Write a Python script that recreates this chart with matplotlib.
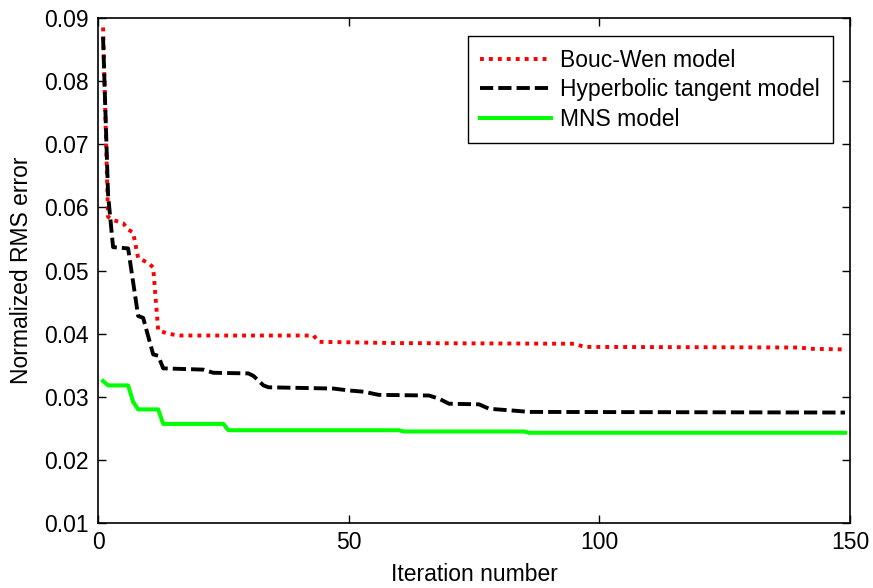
import matplotlib
matplotlib.use("Agg")
import matplotlib.pyplot as plt

plt.rcParams['font.family'] = ['Liberation Sans', 'DejaVu Sans']

# Bouc-Wen model (iteration, error) breakpoints
bw_it = [1, 2, 3, 5, 6, 7, 8, 10, 11, 12, 14, 16, 43, 44, 60, 95, 97, 140, 142, 149]
bw_err = [0.0885, 0.0585, 0.058, 0.0575, 0.0565, 0.056, 0.052, 0.0512, 0.0505, 0.0405,
          0.0400, 0.0397, 0.0397, 0.0387, 0.0385, 0.0384, 0.0379, 0.0378, 0.0376, 0.0375]

# Hyperbolic tangent model
ht_it = [1, 2, 3, 6, 8, 9, 11, 12, 13, 21, 23, 30, 31, 33, 34, 47, 50, 53, 56, 66,
         68, 70, 76, 78, 83, 86, 149]
ht_err = [0.087, 0.062, 0.0537, 0.0535, 0.0428, 0.0425, 0.0367, 0.0365, 0.0345, 0.0343,
          0.0338, 0.0337, 0.0333, 0.0318, 0.0315, 0.0313, 0.0310, 0.0308, 0.0303, 0.0302,
          0.0297, 0.0289, 0.0288, 0.0281, 0.0278, 0.0276, 0.0275]

# MNS model
mns_it = [1, 2, 6, 7, 8, 12, 13, 25, 26, 60, 61, 85, 86, 149]
mns_err = [0.0325, 0.0318, 0.0318, 0.0292, 0.0280, 0.0280, 0.0257, 0.0257, 0.0247,
           0.0247, 0.0245, 0.0245, 0.0243, 0.0243]

fig = plt.figure(figsize=(8.73, 5.88), dpi=100)
ax = fig.add_axes([0.1123, 0.1105, 0.8614, 0.8589])

ax.plot(bw_it, bw_err, color='red', lw=2.8, linestyle=(0, (1, 1.3)),
        dash_capstyle='butt', label='Bouc-Wen model')
ax.plot(ht_it, ht_err, color='black', lw=2.8, linestyle=(0, (3.4, 1.3)),
        dash_capstyle='butt', label='Hyperbolic tangent model')
ax.plot(mns_it, mns_err, color='#00ff00', lw=2.9, label='MNS model')

ax.set_xlim(0, 150)
ax.set_ylim(0.01, 0.09)
ax.set_xticks([0, 50, 100, 150])
ax.set_yticks([0.01, 0.02, 0.03, 0.04, 0.05, 0.06, 0.07, 0.08, 0.09])
ax.set_yticklabels(['0.01', '0.02', '0.03', '0.04', '0.05', '0.06', '0.07', '0.08', '0.09'])
ax.tick_params(direction='in', top=True, right=True, labelsize=16.5, length=6, width=1)
ax.tick_params(axis='y', pad=6.5)
ax.tick_params(axis='x', pad=6)
for s in ax.spines.values():
    s.set_linewidth(1.2)

ax.set_xlabel('Iteration number', fontsize=16.5, labelpad=6)
ax.set_ylabel('Normalized RMS error', fontsize=16.5, labelpad=8)

leg = ax.legend(loc='upper right', fontsize=16.5, fancybox=False, framealpha=1,
                edgecolor='black', handlelength=3.1, handletextpad=0.4,
                labelspacing=0.28, borderpad=0.55, borderaxespad=0,
                bbox_to_anchor=(0.977, 0.964))
leg.get_frame().set_linewidth(1.0)

fig.savefig('out.png', dpi=100)
